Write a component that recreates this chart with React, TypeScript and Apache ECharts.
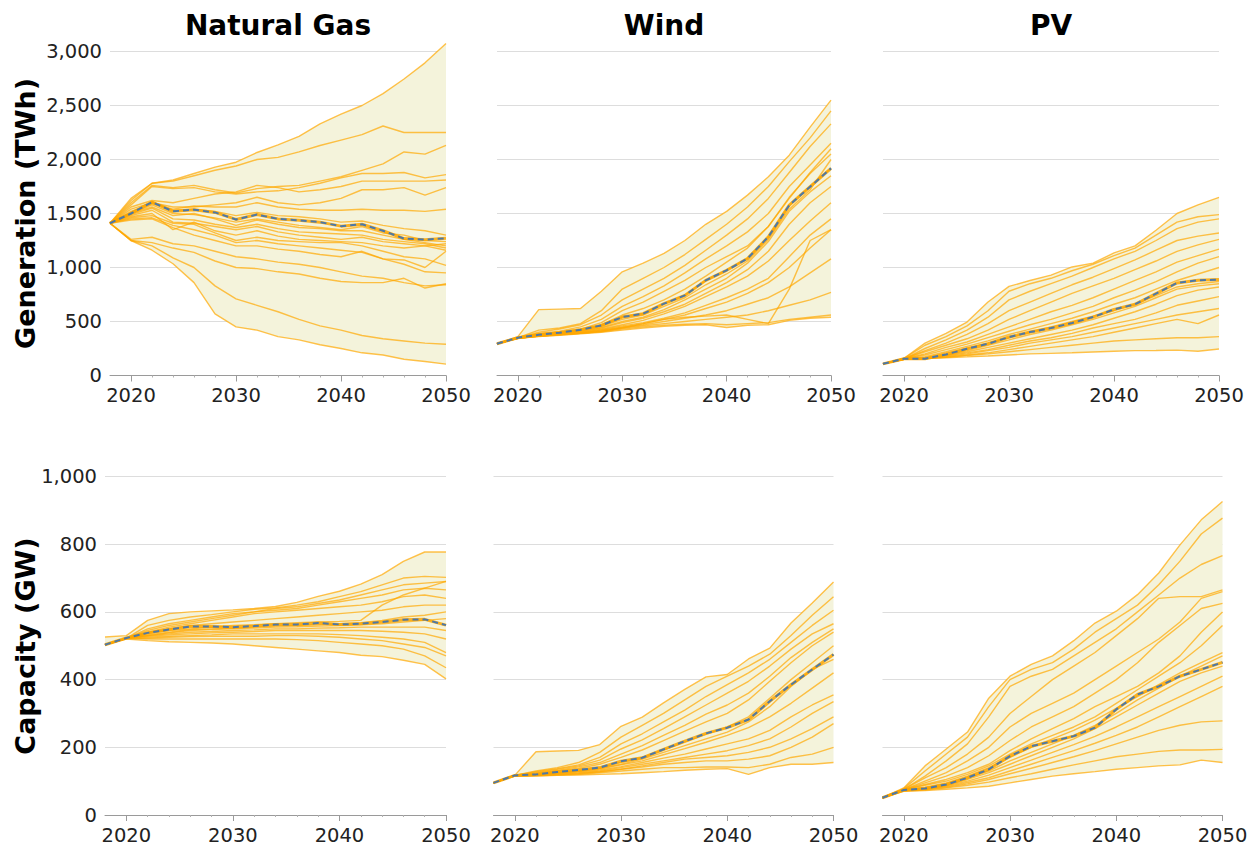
import React, { useEffect, useRef } from "react";
import * as echarts from "echarts";

// Model years, two-year steps
const YEARS = [2018, 2020, 2022, 2024, 2026, 2028, 2030, 2032, 2034, 2036, 2038, 2040, 2042, 2044, 2046, 2048, 2050];

const X_MAJOR_TICKS = [2020, 2030, 2040, 2050];
const X_MINOR_TICKS = [2022, 2024, 2026, 2028, 2032, 2034, 2036, 2038, 2042, 2044, 2046, 2048];

const PANEL_TITLES = ["Natural Gas", "Wind", "PV"];
const ROW_TITLES = ["Generation (TWh)", "Capacity (GW)"];

// ---- Generation (TWh), one row per scenario ----
const NG_GEN: number[][] = [
  [1410, 1640, 1780, 1810, 1870, 1930, 1975, 2065, 2135, 2215, 2330, 2420, 2500, 2610, 2745, 2895, 3075],
  [1410, 1620, 1780, 1800, 1850, 1900, 1940, 2000, 2020, 2070, 2130, 2180, 2230, 2310, 2250, 2250, 2250],
  [1410, 1600, 1760, 1740, 1760, 1720, 1690, 1730, 1750, 1760, 1800, 1840, 1900, 1960, 2070, 2050, 2130],
  [1410, 1580, 1750, 1730, 1740, 1700, 1680, 1700, 1710, 1740, 1780, 1830, 1870, 1870, 1880, 1830, 1860],
  [1410, 1560, 1620, 1600, 1640, 1680, 1700, 1760, 1740, 1700, 1720, 1750, 1800, 1800, 1800, 1800, 1810],
  [1410, 1540, 1600, 1560, 1560, 1580, 1600, 1650, 1600, 1580, 1600, 1640, 1720, 1720, 1740, 1670, 1740],
  [1410, 1520, 1590, 1540, 1570, 1560, 1560, 1600, 1560, 1540, 1530, 1530, 1540, 1530, 1530, 1520, 1540],
  [1410, 1510, 1610, 1530, 1540, 1520, 1480, 1510, 1480, 1470, 1450, 1420, 1430, 1390, 1360, 1340, 1300],
  [1410, 1500, 1580, 1500, 1490, 1460, 1420, 1450, 1420, 1390, 1370, 1350, 1380, 1320, 1300, 1250, 1240],
  [1410, 1500, 1560, 1480, 1500, 1450, 1390, 1440, 1400, 1370, 1360, 1340, 1340, 1300, 1260, 1230, 1200],
  [1410, 1490, 1550, 1450, 1440, 1400, 1370, 1400, 1360, 1330, 1320, 1310, 1300, 1260, 1240, 1220, 1180],
  [1410, 1480, 1530, 1420, 1410, 1380, 1350, 1380, 1330, 1300, 1280, 1260, 1280, 1240, 1220, 1200, 1160],
  [1410, 1470, 1500, 1350, 1420, 1340, 1300, 1340, 1290, 1260, 1250, 1240, 1230, 1200, 1180, 1200, 1220],
  [1410, 1460, 1480, 1410, 1400, 1320, 1250, 1280, 1250, 1240, 1230, 1230, 1200, 1150, 1100, 1080, 1020],
  [1410, 1450, 1460, 1390, 1350, 1300, 1230, 1250, 1220, 1200, 1180, 1160, 1140, 1080, 1030, 960, 950],
  [1410, 1440, 1450, 1370, 1300, 1250, 1200, 1200, 1170, 1150, 1120, 1100, 1150, 1080, 1070, 1000, 1150],
  [1410, 1260, 1280, 1220, 1200, 1150, 1100, 1080, 1050, 1030, 1000, 960, 920, 900, 860, 830, 840],
  [1410, 1250, 1230, 1180, 1140, 1060, 1000, 990, 960, 940, 900, 870, 860, 860, 900, 810, 850],
  [1410, 1250, 1200, 1090, 1000, 830, 710, 650, 590, 520, 460, 420, 370, 340, 320, 300, 290],
  [1410, 1250, 1160, 1035, 860, 570, 450, 420, 360, 330, 285, 250, 210, 190, 150, 130, 105],
];
const NG_GEN_MEDIAN = [1410, 1500, 1605, 1520, 1535, 1510, 1445, 1490, 1450, 1437, 1420, 1383, 1400, 1340, 1268, 1258, 1270];

const WIND_GEN: number[][] = [
  [294, 360, 610, 615, 620, 780, 960, 1040, 1130, 1250, 1400, 1520, 1670, 1840, 2040, 2300, 2550],
  [294, 350, 420, 440, 480, 600, 800, 900, 1000, 1120, 1260, 1400, 1560, 1750, 1980, 2200, 2450],
  [294, 350, 400, 430, 470, 560, 700, 800, 900, 1020, 1160, 1300, 1450, 1640, 1880, 2120, 2330],
  [294, 352, 390, 410, 450, 520, 640, 730, 830, 950, 1080, 1200, 1330, 1500, 1750, 1950, 2150],
  [294, 350, 385, 400, 430, 490, 600, 680, 780, 880, 1000, 1100, 1200, 1380, 1640, 1880, 2100],
  [294, 350, 380, 400, 420, 470, 560, 620, 700, 800, 920, 1050, 1180, 1380, 1650, 1870, 2050],
  [294, 350, 378, 398, 425, 462, 540, 575, 665, 745, 880, 975, 1085, 1285, 1575, 1750, 1920],
  [294, 350, 375, 395, 420, 455, 520, 560, 640, 720, 840, 940, 1060, 1260, 1540, 1720, 2000],
  [294, 348, 372, 390, 410, 445, 500, 540, 610, 700, 800, 900, 1040, 1240, 1520, 1700, 1850],
  [294, 348, 370, 390, 410, 440, 490, 530, 590, 660, 760, 860, 980, 1150, 1400, 1600, 1750],
  [294, 348, 370, 385, 400, 430, 470, 510, 570, 640, 730, 820, 920, 1060, 1250, 1430, 1600],
  [294, 346, 368, 385, 400, 425, 460, 490, 530, 580, 650, 720, 800, 900, 1100, 1300, 1450],
  [294, 346, 366, 380, 395, 420, 450, 480, 520, 560, 620, 680, 760, 860, 1000, 1180, 1350],
  [294, 345, 365, 380, 395, 415, 445, 470, 500, 530, 560, 600, 660, 720, 820, 950, 1080],
  [294, 345, 365, 378, 390, 410, 440, 460, 480, 500, 520, 540, 560, 600, 650, 700, 770],
  [294, 345, 365, 378, 390, 410, 440, 480, 520, 540, 550, 560, 520, 480, 800, 1250, 1350],
  [294, 345, 362, 375, 390, 405, 430, 450, 465, 475, 480, 470, 480, 490, 520, 540, 560],
  [294, 344, 360, 372, 385, 400, 420, 440, 455, 465, 470, 445, 465, 470, 510, 530, 540],
];
const WIND_GEN_MEDIAN = [294, 350, 377, 396, 424, 464, 541, 572, 665, 742, 881, 974, 1083, 1284, 1577, 1748, 1918];

const PV_GEN: number[][] = [
  [108, 160, 300, 390, 495, 680, 825, 880, 930, 1005, 1040, 1135, 1200, 1345, 1500, 1580, 1650],
  [108, 158, 280, 360, 460, 600, 780, 850, 900, 970, 1030, 1110, 1180, 1300, 1420, 1470, 1490],
  [108, 155, 250, 330, 420, 540, 700, 780, 850, 920, 1000, 1080, 1150, 1250, 1360, 1420, 1450],
  [108, 155, 230, 300, 380, 480, 600, 680, 760, 840, 910, 990, 1070, 1160, 1250, 1290, 1320],
  [108, 155, 220, 280, 340, 420, 520, 600, 680, 760, 830, 900, 980, 1060, 1150, 1210, 1260],
  [108, 155, 200, 260, 310, 380, 450, 520, 590, 650, 720, 800, 880, 960, 1050, 1110, 1170],
  [108, 155, 190, 240, 290, 350, 410, 470, 520, 580, 640, 720, 790, 870, 960, 1040, 1100],
  [108, 155, 175, 220, 270, 320, 380, 430, 480, 530, 590, 660, 720, 800, 880, 940, 1000],
  [108, 155, 165, 210, 250, 300, 350, 400, 450, 500, 550, 600, 660, 740, 820, 850, 870],
  [108, 152, 160, 190, 230, 280, 330, 380, 420, 470, 520, 580, 640, 720, 800, 830, 850],
  [108, 152, 158, 185, 220, 260, 300, 340, 380, 420, 470, 530, 590, 660, 740, 790, 820],
  [108, 150, 160, 180, 210, 240, 280, 320, 350, 390, 440, 480, 520, 580, 650, 690, 730],
  [108, 150, 158, 175, 200, 230, 260, 300, 330, 360, 400, 440, 480, 520, 560, 590, 620],
  [108, 150, 158, 170, 190, 210, 240, 270, 300, 330, 360, 400, 440, 480, 520, 480, 560],
  [108, 150, 158, 168, 185, 200, 220, 240, 260, 280, 300, 320, 330, 340, 350, 350, 360],
  [108, 150, 158, 165, 172, 180, 190, 200, 205, 210, 218, 225, 230, 232, 235, 225, 245],
];
const PV_GEN_MEDIAN = [108, 155, 155, 195, 247, 294, 356, 402, 439, 486, 541, 612, 659, 758, 857, 881, 888];

// ---- Capacity (GW), one row per scenario ----
const NG_CAP: number[][] = [
  [526, 530, 575, 595, 600, 603, 606, 610, 616, 628, 646, 661, 682, 710, 749, 777, 777],
  [503, 522, 560, 575, 585, 592, 600, 608, 612, 620, 630, 645, 660, 680, 700, 705, 702],
  [503, 522, 550, 565, 575, 585, 595, 600, 610, 615, 625, 635, 650, 665, 680, 685, 690],
  [503, 522, 545, 560, 570, 580, 590, 600, 605, 610, 620, 630, 640, 650, 665, 670, 665],
  [503, 522, 540, 555, 565, 575, 585, 595, 600, 605, 610, 615, 620, 630, 645, 650, 640],
  [503, 522, 538, 550, 560, 565, 570, 575, 580, 585, 590, 595, 600, 605, 615, 620, 620],
  [503, 522, 535, 545, 550, 555, 560, 562, 565, 568, 570, 572, 575, 620, 650, 670, 690],
  [503, 522, 532, 540, 548, 550, 552, 555, 558, 560, 562, 565, 568, 575, 585, 590, 600],
  [503, 522, 530, 538, 545, 548, 550, 552, 555, 556, 558, 560, 562, 565, 570, 575, 580],
  [503, 522, 530, 535, 540, 542, 545, 547, 550, 550, 552, 553, 555, 555, 555, 555, 545],
  [503, 522, 528, 532, 535, 538, 540, 542, 545, 545, 545, 545, 545, 543, 540, 535, 520],
  [503, 522, 525, 528, 530, 532, 535, 535, 535, 535, 535, 533, 530, 525, 520, 510, 480],
  [503, 522, 522, 525, 527, 528, 528, 528, 530, 530, 528, 525, 520, 515, 505, 495, 470],
  [503, 522, 520, 520, 520, 520, 520, 520, 520, 518, 515, 510, 505, 500, 490, 470, 435],
  [503, 520, 515, 512, 510, 508, 505, 500, 495, 490, 485, 480, 472, 468, 457, 445, 402],
];
const NG_CAP_MEDIAN = [503, 523, 538, 548, 557, 557, 555, 558, 563, 563, 567, 563, 565, 570, 577, 578, 561];

const WIND_CAP: number[][] = [
  [95, 117, 187, 189, 191, 208, 262, 289, 331, 371, 408, 415, 461, 493, 567, 626, 688],
  [95, 117, 130, 140, 155, 185, 230, 265, 300, 340, 380, 410, 440, 475, 530, 590, 645],
  [95, 117, 128, 137, 148, 170, 210, 240, 275, 310, 350, 385, 420, 460, 510, 560, 605],
  [95, 117, 126, 135, 145, 162, 195, 222, 255, 290, 325, 360, 395, 440, 490, 535, 565],
  [95, 117, 124, 132, 142, 155, 180, 205, 235, 265, 298, 325, 360, 410, 465, 510, 550],
  [95, 117, 122, 130, 138, 150, 170, 192, 220, 248, 275, 300, 340, 395, 450, 500, 540],
  [95, 117, 120, 126, 132, 140, 155, 170, 192, 215, 238, 260, 290, 345, 400, 450, 500],
  [95, 117, 119, 125, 130, 138, 150, 165, 185, 205, 225, 245, 275, 320, 380, 430, 460],
  [95, 117, 119, 124, 129, 136, 148, 160, 178, 196, 215, 235, 258, 290, 330, 375, 420],
  [95, 117, 118, 122, 127, 133, 143, 155, 168, 180, 195, 210, 225, 250, 290, 325, 355],
  [95, 117, 118, 121, 125, 130, 140, 150, 160, 170, 180, 190, 205, 225, 260, 300, 335],
  [95, 116, 117, 120, 123, 128, 135, 145, 155, 165, 170, 175, 185, 200, 225, 255, 290],
  [95, 116, 117, 119, 122, 127, 135, 142, 150, 155, 160, 160, 165, 175, 200, 230, 270],
  [95, 115, 116, 118, 120, 125, 130, 135, 140, 140, 142, 142, 140, 150, 170, 180, 200],
  [95, 115, 115, 117, 118, 120, 122, 125, 128, 132, 135, 137, 120, 140, 150, 150, 155],
];
const WIND_CAP_MEDIAN = [95, 117, 120, 127, 133, 140, 159, 169, 194, 218, 241, 258, 282, 336, 385, 430, 474];

const PV_CAP: number[][] = [
  [51, 80, 145, 195, 245, 345, 410, 445, 470, 515, 567, 602, 651, 715, 798, 872, 926],
  [51, 78, 130, 180, 230, 320, 400, 430, 450, 490, 540, 580, 620, 680, 750, 830, 877],
  [51, 76, 115, 160, 210, 290, 380, 410, 430, 470, 510, 550, 600, 650, 700, 740, 766],
  [51, 76, 110, 140, 180, 230, 300, 350, 400, 440, 480, 530, 580, 640, 645, 645, 665],
  [51, 75, 100, 125, 160, 200, 260, 300, 330, 360, 400, 440, 480, 520, 570, 640, 660],
  [51, 75, 95, 115, 140, 175, 220, 260, 290, 320, 360, 400, 450, 510, 560, 610, 625],
  [51, 75, 90, 105, 125, 150, 190, 225, 255, 285, 320, 350, 380, 420, 470, 540, 600],
  [51, 75, 88, 100, 120, 145, 180, 210, 235, 260, 290, 330, 370, 410, 450, 500, 560],
  [51, 74, 82, 95, 115, 140, 170, 200, 225, 250, 280, 315, 350, 385, 420, 450, 480],
  [51, 74, 80, 92, 110, 130, 160, 185, 210, 235, 265, 300, 340, 375, 410, 440, 470],
  [51, 73, 78, 88, 105, 125, 150, 175, 200, 225, 255, 290, 325, 360, 395, 420, 440],
  [51, 73, 77, 86, 100, 118, 140, 162, 185, 208, 232, 260, 290, 320, 350, 380, 410],
  [51, 72, 76, 84, 96, 110, 130, 150, 170, 190, 212, 235, 260, 290, 320, 350, 380],
  [51, 72, 75, 82, 92, 105, 122, 138, 155, 172, 190, 210, 230, 250, 265, 275, 278],
  [51, 71, 74, 80, 88, 97, 110, 122, 135, 148, 160, 172, 180, 188, 192, 192, 194],
  [51, 70, 72, 76, 80, 85, 95, 105, 115, 122, 128, 135, 140, 145, 148, 162, 155],
];
const PV_CAP_MEDIAN = [51, 74, 78, 90, 110, 135, 174, 203, 218, 233, 258, 312, 356, 380, 410, 430, 451];

const PANEL_DATA = [
  { scen: NG_GEN, median: NG_GEN_MEDIAN },
  { scen: WIND_GEN, median: WIND_GEN_MEDIAN },
  { scen: PV_GEN, median: PV_GEN_MEDIAN },
  { scen: NG_CAP, median: NG_CAP_MEDIAN },
  { scen: WIND_CAP, median: WIND_CAP_MEDIAN },
  { scen: PV_CAP, median: PV_CAP_MEDIAN },
];

// Panel placement in pixels
const GRIDS = [
  { left: 110, top: 51.5, width: 336, height: 324 },
  { left: 497, top: 51.5, width: 334, height: 324 },
  { left: 883, top: 51.5, width: 336, height: 324 },
  { left: 105, top: 476.5, width: 341, height: 339 },
  { left: 493.5, top: 476.5, width: 340, height: 339 },
  { left: 882.5, top: 476.5, width: 340, height: 339 },
];

const FONT = "DejaVu Sans";
const LINE_COLOR = "rgba(255, 168, 0, 0.7)";
const BAND_COLOR = "#f4f3db";
const MEDIAN_COLOR = "#4c78a8";

function buildOption() {
  const xAxis: any[] = [];
  const yAxis: any[] = [];
  const series: any[] = [];

  GRIDS.forEach((_, gi) => {
    const topRow = gi < 3;
    const leftCol = gi % 3 === 0;
    // major axis with labels
    xAxis.push({
      type: "value",
      gridIndex: gi,
      min: 2018,
      max: 2050,
      position: "bottom",
      axisLine: { show: true, lineStyle: { color: "#9a9a9a", width: 1 } },
      axisTick: { show: true, length: 6, customValues: X_MAJOR_TICKS, lineStyle: { color: "#9a9a9a" } },
      axisLabel: {
        show: true,
        customValues: X_MAJOR_TICKS,
        margin: 10,
        fontFamily: FONT,
        fontSize: 19.5,
        color: "#222",
        formatter: (v: number) => String(v),
      },
      splitLine: { show: false },
    });
    // minor ticks
    xAxis.push({
      type: "value",
      gridIndex: gi,
      min: 2018,
      max: 2050,
      position: "bottom",
      axisLine: { show: false },
      axisTick: { show: true, length: 2, customValues: X_MINOR_TICKS, lineStyle: { color: "#b0b0b0" } },
      axisLabel: { show: false, customValues: X_MINOR_TICKS },
      splitLine: { show: false },
    });
    yAxis.push({
      type: "value",
      gridIndex: gi,
      min: 0,
      max: topRow ? 3000 : 1000,
      interval: topRow ? 500 : 200,
      axisLine: { show: false },
      axisTick: { show: false },
      axisLabel: {
        show: leftCol,
        margin: 8,
        fontFamily: FONT,
        fontSize: 19.5,
        color: "#222",
        formatter: (v: number) => v.toLocaleString("en-US"),
      },
      splitLine: { show: true, lineStyle: { color: "#dddddd", width: 1 } },
    });

    const { scen, median } = PANEL_DATA[gi];
    const lo = YEARS.map((_, i) => Math.min(...scen.map((s) => s[i]), median[i]));
    const hi = YEARS.map((_, i) => Math.max(...scen.map((s) => s[i]), median[i]));

    // min–max envelope
    series.push({
      type: "custom",
      xAxisIndex: gi * 2,
      yAxisIndex: gi,
      silent: true,
      z: 1,
      data: [[YEARS[0], lo[0]]],
      renderItem: (_params: any, api: any) => {
        const upper = YEARS.map((yr, i) => api.coord([yr, hi[i]]));
        const lower = YEARS.map((yr, i) => api.coord([yr, lo[i]])).reverse();
        return {
          type: "polygon",
          shape: { points: upper.concat(lower) },
          style: { fill: BAND_COLOR },
        };
      },
    });

    scen.forEach((row, si) => {
      series.push({
        type: "line",
        name: `s${gi}-${si}`,
        xAxisIndex: gi * 2,
        yAxisIndex: gi,
        data: YEARS.map((yr, i) => [yr, row[i]]),
        showSymbol: false,
        symbol: "none",
        clip: false,
        silent: true,
        z: 2,
        lineStyle: { color: LINE_COLOR, width: 1.4 },
      });
    });

    // median: orange under-stroke and dashed blue line
    series.push({
      type: "line",
      xAxisIndex: gi * 2,
      yAxisIndex: gi,
      data: YEARS.map((yr, i) => [yr, median[i]]),
      showSymbol: false,
      symbol: "none",
      clip: false,
      silent: true,
      z: 3,
      lineStyle: { color: "rgba(250, 165, 0, 0.85)", width: 3 },
    });
    series.push({
      type: "line",
      xAxisIndex: gi * 2,
      yAxisIndex: gi,
      data: YEARS.map((yr, i) => [yr, median[i]]),
      showSymbol: false,
      symbol: "none",
      clip: false,
      silent: true,
      z: 4,
      lineStyle: { color: MEDIAN_COLOR, width: 2, type: [6, 4] },
    });
  });

  const graphic: any[] = [];
  PANEL_TITLES.forEach((t, i) => {
    const g = GRIDS[i];
    graphic.push({
      type: "text",
      x: g.left + g.width / 2,
      y: 25,
      style: {
        text: t,
        fontFamily: FONT,
        fontWeight: "bold",
        fontSize: 28,
        fill: "#000",
        align: "center",
        verticalAlign: "middle",
      },
    });
  });
  ROW_TITLES.forEach((t, r) => {
    const g = GRIDS[r * 3];
    graphic.push({
      type: "text",
      x: 25,
      y: g.top + g.height / 2,
      rotation: Math.PI / 2,
      style: {
        text: t,
        fontFamily: FONT,
        fontWeight: "bold",
        fontSize: 27,
        fill: "#000",
        align: "center",
        verticalAlign: "middle",
      },
    });
  });

  return {
    animation: false,
    backgroundColor: "#ffffff",
    grid: GRIDS.map((g) => ({ ...g, containLabel: false })),
    xAxis,
    yAxis,
    series,
    graphic,
  };
}

export default function App() {
  const ref = useRef<HTMLDivElement>(null);
  useEffect(() => {
    if (!ref.current) return;
    const chart = echarts.init(ref.current, undefined, { renderer: "svg" });
    chart.setOption(buildOption());
    return () => chart.dispose();
  }, []);
  return (
    <div
      ref={ref}
      style={{ position: "fixed", left: 0, top: 0, width: 1256, height: 845, background: "#fff" }}
    />
  );
}
